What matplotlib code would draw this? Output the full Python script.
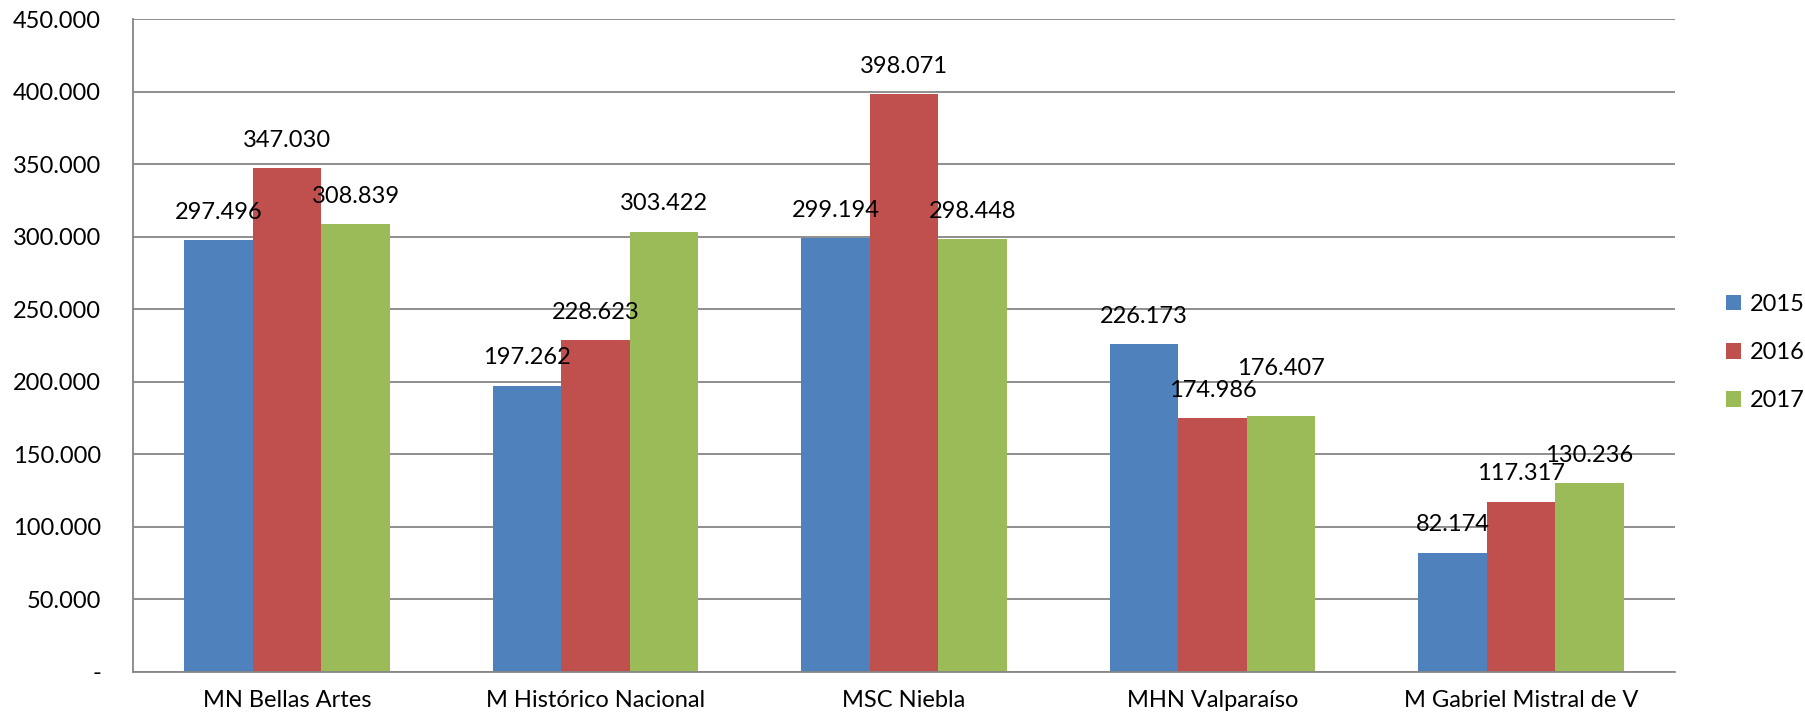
import matplotlib
matplotlib.use("Agg")
import matplotlib.pyplot as plt
import numpy as np

museos = ["MN Bellas Artes", "M Histórico Nacional", "MSC Niebla", "MHN Valparaíso", "M Gabriel Mistral de V"]
anios = ["2015", "2016", "2017"]
v2015 = [297496, 197262, 299194, 226173, 82174]
v2016 = [347030, 228623, 398071, 174986, 117317]
v2017 = [308839, 303422, 298448, 176407, 130236]
colores = ["#4F81BD", "#C0504D", "#9BBB59"]

def fmt(v):
	if v == 0:
		return "-"
	return f"{v:,.0f}".replace(",", ".")

def main():
	plt.rcParams['font.family'] = ['Lato', 'DejaVu Sans']
	fs = 17
	fig = plt.figure(figsize=(18.06, 7.17), dpi=100)
	ax = fig.add_axes([0.0736, 0.0628, 0.8539, 0.9107])

	x = np.arange(len(museos))
	w = 0.222
	series = [v2015, v2016, v2017]
	# Excel pushed this one label up so it would not collide with its neighbour
	nudge = {(2, 3): 14}
	for i, (vals, lab, col) in enumerate(zip(series, anios, colores)):
		pos = x + (i - 1) * w
		ax.bar(pos, vals, width=w, color=col, label=lab, zorder=2)
		for j, (p, v) in enumerate(zip(pos, vals)):
			ax.annotate(fmt(v), (p, v), xytext=(0, 20 + nudge.get((i, j), 0)),
				textcoords="offset points", ha="center", va="center", fontsize=fs, zorder=3)

	ax.set_xlim(-0.5, len(museos) - 0.5)
	ax.set_ylim(0, 450000)
	ticks = np.arange(0, 450001, 50000)
	ax.set_yticks(ticks)
	ax.set_yticklabels([fmt(t) for t in ticks], fontsize=fs)
	ax.set_xticks(x)
	ax.set_xticklabels(museos, fontsize=fs)
	ax.tick_params(axis="y", length=0, pad=23)
	ax.tick_params(axis="x", length=0, pad=13)
	ax.yaxis.grid(True, color="#868686", linewidth=1.3, zorder=0)
	ax.set_axisbelow(True)
	for s in ["top", "right"]:
		ax.spines[s].set_visible(False)
	for s in ["left", "bottom"]:
		ax.spines[s].set_color("#868686")
		ax.spines[s].set_linewidth(1.3)

	ax.legend(loc="center left", bbox_to_anchor=(0.944, 0.508), bbox_transform=fig.transFigure,
		frameon=False, fontsize=fs, handlelength=0.62, handleheight=0.62,
		handletextpad=0.4, labelspacing=1.15)

	plt.savefig("out.png")

if __name__ == '__main__':
	main()
